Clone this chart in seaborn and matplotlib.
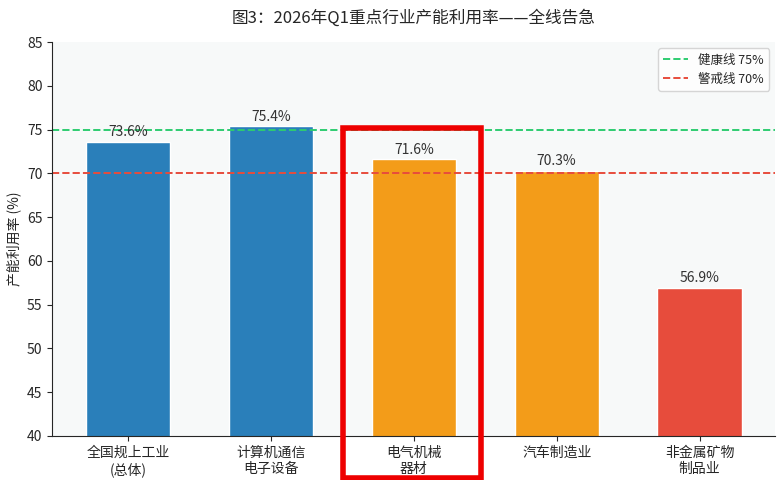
import matplotlib
matplotlib.use("Agg")
import matplotlib.pyplot as plt
import matplotlib.patches as mpatches
import pandas as pd
import seaborn as sns

categories = ["全国规上工业\n(总体)", "计算机通信\n电子设备", "电气机械\n器材", "汽车制造业", "非金属矿物\n制品业"]
values = [73.6, 75.4, 71.6, 70.3, 56.9]
colors = ["#2a7fba", "#2a7fba", "#f39c19", "#f39c19", "#e74c3c"]
healthy_line = 75
warning_line = 70

sns.set_style("ticks")
plt.rcParams["font.family"] = ["Noto Sans CJK SC", "DejaVu Sans"]

df = pd.DataFrame({"category": categories, "value": values})

fig = plt.figure(figsize=(7.8, 4.8), dpi=100)
ax = fig.add_axes([0.067, 0.092, 0.927, 0.82])
ax.set_facecolor("#f7f9f9")
sns.barplot(data=df, x="category", y="value", hue="category", palette=colors,
            width=0.59, legend=False, ax=ax, saturation=1)

for i, v in enumerate(values):
    ax.text(i, v + 0.3, f"{v}%", ha="center", va="bottom", fontsize=10, color="#333333")

ax.axhline(healthy_line, color="#2ecc71", ls="--", lw=1.4, label="健康线 75%")
ax.axhline(warning_line, color="#e74c3c", ls="--", lw=1.4, label="警戒线 70%")

ax.add_patch(mpatches.Rectangle((1.505, 35.2), 0.965, 40.05, fill=False,
                                edgecolor="#ee0000", lw=4, clip_on=False, zorder=5))

ax.set_ylim(40, 85)
ax.set_xlim(-0.53, 4.53)
ax.set_xlabel("")
ax.set_ylabel("产能利用率 (%)", fontsize=10)
ax.tick_params(axis="both", labelsize=10)
ax.set_title("图3：2026年Q1重点行业产能利用率——全线告急", fontsize=12, pad=14)
sns.despine(ax=ax)
ax.legend(loc="upper right", fontsize=9, frameon=True)

fig.savefig("out.png", dpi=100)
